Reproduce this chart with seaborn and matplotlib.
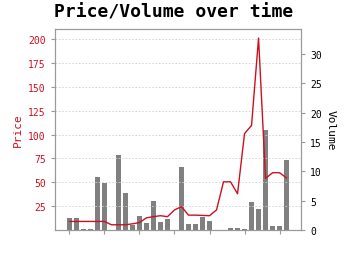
import numpy as np
import pandas as pd
import matplotlib
matplotlib.use("Agg")
import matplotlib.pyplot as plt
import seaborn as sns

day = list(range(32))
price = [9, 9, 9, 9, 9, 9, 5.5, 5.5, 5.5, 6.5, 7.8, 12.8, 14, 15, 14, 21,
         24.5, 15.6, 15.6, 15.3, 15, 21, 50.5, 50.5, 38, 101, 109.5, 201,
         54, 60, 60, 54.5]
volume = [2.0, 2.0, 0.1, 0.1, 9.0, 8.0, 0, 12.8, 6.25, 0.85, 2.33, 1.14, 5.0,
          1.36, 1.9, 0, 10.8, 1.0, 1.0, 2.15, 1.6, 0, 0, 0.3, 0.4, 0.2, 4.8,
          3.5, 17.1, 0.7, 0.7, 11.9]
price_ticks = [25, 50, 75, 100, 125, 150, 175, 200]
volume_ticks = [0, 5, 10, 15, 20, 25, 30]
x_ticks = [0, 5, 10, 15, 20, 25, 30]

df = pd.DataFrame({"day": day, "price": price, "volume": volume})

sns.set_style("white")
plt.rcParams['font.family'] = ['DejaVu Sans Mono']
plt.rcParams['text.color'] = 'black'

RED = "#cc1020"
GREY_SPINE = "#999999"

fig = plt.figure(figsize=(3.5, 2.55), dpi=100)
ax = fig.add_axes([0.157, 0.094, 0.703, 0.788])
ax2 = ax.twinx()

sns.barplot(data=df, x="day", y="volume", ax=ax2, color="#808080",
            saturation=1, width=0.8, errorbar=None, linewidth=0,
            edgecolor="#808080")
sns.lineplot(data=df, x="day", y="price", ax=ax, color=RED, linewidth=1.0)

ax.set_zorder(ax2.get_zorder() + 1)
ax.patch.set_visible(False)

ax.set_xlim(-2.06, 33.06)
ax2.set_xlim(-2.06, 33.06)
ax.set_ylim(0, 210.4)
ax2.set_ylim(0, 34.2)

ax.set_xticks(x_ticks)
ax.set_xticklabels([""] * len(x_ticks))
ax2.set_xticks(x_ticks)
ax2.set_xticklabels([""] * len(x_ticks))
ax.set_xlabel("")
ax2.set_xlabel("")

ax.set_yticks(price_ticks)
ax.set_yticklabels([str(t) for t in price_ticks])
ax2.set_yticks(volume_ticks)
ax2.set_yticklabels([str(t) for t in volume_ticks])

ax.tick_params(axis="y", colors=GREY_SPINE, labelcolor=RED, labelsize=7,
               length=3, width=0.8, direction="out", left=True)
ax.tick_params(axis="x", colors=GREY_SPINE, length=3, width=0.8,
               direction="out", bottom=True)
ax2.tick_params(axis="y", colors=GREY_SPINE, labelcolor="black", labelsize=7,
                length=3, width=0.8, direction="out", right=True)
ax2.tick_params(axis="x", bottom=False, top=False)

ax.grid(axis="y", color="#d0d0d0", linestyle=(0, (2, 2)), linewidth=0.6)
ax.set_axisbelow(True)

for a in (ax, ax2):
    for s in a.spines.values():
        s.set_color(GREY_SPINE)
        s.set_linewidth(0.8)
        s.set_visible(True)

ax.set_ylabel("Price", color=RED, fontsize=8, labelpad=4)
ax2.set_ylabel("Volume", color="black", fontsize=8, rotation=270, labelpad=10)

fig.suptitle("Price/Volume over time", fontsize=13, fontweight="bold",
             x=0.497, y=0.985, color="black")

fig.savefig("out.png", dpi=100)
